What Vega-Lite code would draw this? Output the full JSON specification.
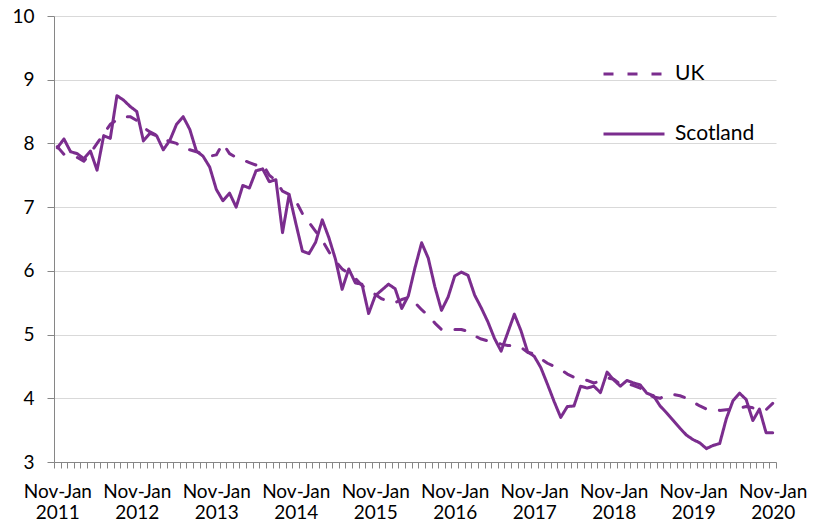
{
  "$schema": "https://vega.github.io/schema/vega-lite/v6.json",
  "width": 722,
  "height": 446,
  "padding": {"left": 11, "top": 7, "right": 0, "bottom": 0},
  "background": "white",
  "config": {"view": {"stroke": null}},
  "data": {"values": [
    {"i": 0, "p": "Nov-Jan 2011", "UK": 7.95, "Scotland": 7.93},
    {"i": 1, "p": "Dec-Feb 2011", "UK": 7.83, "Scotland": 8.07},
    {"i": 2, "p": "Jan-Mar 2011", "UK": 7.8, "Scotland": 7.87},
    {"i": 3, "p": "Feb-Apr 2011", "UK": 7.78, "Scotland": 7.84},
    {"i": 4, "p": "Mar-May 2011", "UK": 7.72, "Scotland": 7.76},
    {"i": 5, "p": "Apr-Jun 2011", "UK": 7.85, "Scotland": 7.88},
    {"i": 6, "p": "May-Jul 2011", "UK": 8.0, "Scotland": 7.58},
    {"i": 7, "p": "Jun-Aug 2011", "UK": 8.15, "Scotland": 8.12},
    {"i": 8, "p": "Jul-Sep 2011", "UK": 8.3, "Scotland": 8.08},
    {"i": 9, "p": "Aug-Oct 2011", "UK": 8.37, "Scotland": 8.75},
    {"i": 10, "p": "Sep-Nov 2011", "UK": 8.42, "Scotland": 8.68},
    {"i": 11, "p": "Oct-Dec 2011", "UK": 8.42, "Scotland": 8.58},
    {"i": 12, "p": "Nov-Jan 2012", "UK": 8.36, "Scotland": 8.5},
    {"i": 13, "p": "Dec-Feb 2012", "UK": 8.25, "Scotland": 8.04},
    {"i": 14, "p": "Jan-Mar 2012", "UK": 8.18, "Scotland": 8.16},
    {"i": 15, "p": "Feb-Apr 2012", "UK": 8.13, "Scotland": 8.12},
    {"i": 16, "p": "Mar-May 2012", "UK": 8.07, "Scotland": 7.9},
    {"i": 17, "p": "Apr-Jun 2012", "UK": 8.03, "Scotland": 8.05},
    {"i": 18, "p": "May-Jul 2012", "UK": 8.0, "Scotland": 8.3},
    {"i": 19, "p": "Jun-Aug 2012", "UK": 7.92, "Scotland": 8.42},
    {"i": 20, "p": "Jul-Sep 2012", "UK": 7.9, "Scotland": 8.22},
    {"i": 21, "p": "Aug-Oct 2012", "UK": 7.87, "Scotland": 7.88},
    {"i": 22, "p": "Sep-Nov 2012", "UK": 7.83, "Scotland": 7.8},
    {"i": 23, "p": "Oct-Dec 2012", "UK": 7.8, "Scotland": 7.63},
    {"i": 24, "p": "Nov-Jan 2013", "UK": 7.82, "Scotland": 7.28},
    {"i": 25, "p": "Dec-Feb 2013", "UK": 8.0, "Scotland": 7.1},
    {"i": 26, "p": "Jan-Mar 2013", "UK": 7.84, "Scotland": 7.22},
    {"i": 27, "p": "Feb-Apr 2013", "UK": 7.78, "Scotland": 7.0},
    {"i": 28, "p": "Mar-May 2013", "UK": 7.74, "Scotland": 7.34},
    {"i": 29, "p": "Apr-Jun 2013", "UK": 7.7, "Scotland": 7.3},
    {"i": 30, "p": "May-Jul 2013", "UK": 7.66, "Scotland": 7.57},
    {"i": 31, "p": "Jun-Aug 2013", "UK": 7.68, "Scotland": 7.6},
    {"i": 32, "p": "Jul-Sep 2013", "UK": 7.5, "Scotland": 7.4},
    {"i": 33, "p": "Aug-Oct 2013", "UK": 7.42, "Scotland": 7.43},
    {"i": 34, "p": "Sep-Nov 2013", "UK": 7.25, "Scotland": 6.6},
    {"i": 35, "p": "Oct-Dec 2013", "UK": 7.2, "Scotland": 7.2},
    {"i": 36, "p": "Nov-Jan 2014", "UK": 7.1, "Scotland": 6.75},
    {"i": 37, "p": "Dec-Feb 2014", "UK": 6.9, "Scotland": 6.31},
    {"i": 38, "p": "Jan-Mar 2014", "UK": 6.76, "Scotland": 6.27},
    {"i": 39, "p": "Feb-Apr 2014", "UK": 6.62, "Scotland": 6.45},
    {"i": 40, "p": "Mar-May 2014", "UK": 6.48, "Scotland": 6.8},
    {"i": 41, "p": "Apr-Jun 2014", "UK": 6.3, "Scotland": 6.52},
    {"i": 42, "p": "May-Jul 2014", "UK": 6.15, "Scotland": 6.18},
    {"i": 43, "p": "Jun-Aug 2014", "UK": 6.03, "Scotland": 5.71},
    {"i": 44, "p": "Jul-Sep 2014", "UK": 5.96, "Scotland": 6.03},
    {"i": 45, "p": "Aug-Oct 2014", "UK": 5.88, "Scotland": 5.81},
    {"i": 46, "p": "Sep-Nov 2014", "UK": 5.77, "Scotland": 5.79},
    {"i": 47, "p": "Oct-Dec 2014", "UK": 5.7, "Scotland": 5.33},
    {"i": 48, "p": "Nov-Jan 2015", "UK": 5.63, "Scotland": 5.61},
    {"i": 49, "p": "Dec-Feb 2015", "UK": 5.56, "Scotland": 5.7},
    {"i": 50, "p": "Jan-Mar 2015", "UK": 5.52, "Scotland": 5.79},
    {"i": 51, "p": "Feb-Apr 2015", "UK": 5.5, "Scotland": 5.72},
    {"i": 52, "p": "Mar-May 2015", "UK": 5.55, "Scotland": 5.41},
    {"i": 53, "p": "Apr-Jun 2015", "UK": 5.58, "Scotland": 5.61},
    {"i": 54, "p": "May-Jul 2015", "UK": 5.5, "Scotland": 6.05},
    {"i": 55, "p": "Jun-Aug 2015", "UK": 5.39, "Scotland": 6.44},
    {"i": 56, "p": "Jul-Sep 2015", "UK": 5.3, "Scotland": 6.2},
    {"i": 57, "p": "Aug-Oct 2015", "UK": 5.18, "Scotland": 5.75},
    {"i": 58, "p": "Sep-Nov 2015", "UK": 5.08, "Scotland": 5.38},
    {"i": 59, "p": "Oct-Dec 2015", "UK": 5.08, "Scotland": 5.59},
    {"i": 60, "p": "Nov-Jan 2016", "UK": 5.08, "Scotland": 5.92},
    {"i": 61, "p": "Dec-Feb 2016", "UK": 5.08, "Scotland": 5.98},
    {"i": 62, "p": "Jan-Mar 2016", "UK": 5.05, "Scotland": 5.93},
    {"i": 63, "p": "Feb-Apr 2016", "UK": 4.98, "Scotland": 5.62},
    {"i": 64, "p": "Mar-May 2016", "UK": 4.93, "Scotland": 5.42},
    {"i": 65, "p": "Apr-Jun 2016", "UK": 4.9, "Scotland": 5.2},
    {"i": 66, "p": "May-Jul 2016", "UK": 4.88, "Scotland": 4.94},
    {"i": 67, "p": "Jun-Aug 2016", "UK": 4.85, "Scotland": 4.74},
    {"i": 68, "p": "Jul-Sep 2016", "UK": 4.83, "Scotland": 5.03},
    {"i": 69, "p": "Aug-Oct 2016", "UK": 4.83, "Scotland": 5.32},
    {"i": 70, "p": "Sep-Nov 2016", "UK": 4.8, "Scotland": 5.06},
    {"i": 71, "p": "Oct-Dec 2016", "UK": 4.72, "Scotland": 4.73},
    {"i": 72, "p": "Nov-Jan 2017", "UK": 4.7, "Scotland": 4.66},
    {"i": 73, "p": "Dec-Feb 2017", "UK": 4.62, "Scotland": 4.48},
    {"i": 74, "p": "Jan-Mar 2017", "UK": 4.55, "Scotland": 4.22},
    {"i": 75, "p": "Feb-Apr 2017", "UK": 4.5, "Scotland": 3.95},
    {"i": 76, "p": "Mar-May 2017", "UK": 4.45, "Scotland": 3.7},
    {"i": 77, "p": "Apr-Jun 2017", "UK": 4.38, "Scotland": 3.87},
    {"i": 78, "p": "May-Jul 2017", "UK": 4.33, "Scotland": 3.88},
    {"i": 79, "p": "Jun-Aug 2017", "UK": 4.31, "Scotland": 4.19},
    {"i": 80, "p": "Jul-Sep 2017", "UK": 4.28, "Scotland": 4.16},
    {"i": 81, "p": "Aug-Oct 2017", "UK": 4.24, "Scotland": 4.19},
    {"i": 82, "p": "Sep-Nov 2017", "UK": 4.27, "Scotland": 4.09},
    {"i": 83, "p": "Oct-Dec 2017", "UK": 4.32, "Scotland": 4.41},
    {"i": 84, "p": "Nov-Jan 2018", "UK": 4.3, "Scotland": 4.29},
    {"i": 85, "p": "Dec-Feb 2018", "UK": 4.22, "Scotland": 4.19},
    {"i": 86, "p": "Jan-Mar 2018", "UK": 4.23, "Scotland": 4.28},
    {"i": 87, "p": "Feb-Apr 2018", "UK": 4.2, "Scotland": 4.24},
    {"i": 88, "p": "Mar-May 2018", "UK": 4.16, "Scotland": 4.21},
    {"i": 89, "p": "Apr-Jun 2018", "UK": 4.07, "Scotland": 4.08},
    {"i": 90, "p": "May-Jul 2018", "UK": 4.02, "Scotland": 4.04},
    {"i": 91, "p": "Jun-Aug 2018", "UK": 4.0, "Scotland": 3.88},
    {"i": 92, "p": "Jul-Sep 2018", "UK": 4.05, "Scotland": 3.77},
    {"i": 93, "p": "Aug-Oct 2018", "UK": 4.06, "Scotland": 3.65},
    {"i": 94, "p": "Sep-Nov 2018", "UK": 4.04, "Scotland": 3.53},
    {"i": 95, "p": "Oct-Dec 2018", "UK": 4.0, "Scotland": 3.42},
    {"i": 96, "p": "Nov-Jan 2019", "UK": 3.94, "Scotland": 3.35},
    {"i": 97, "p": "Dec-Feb 2019", "UK": 3.88, "Scotland": 3.3},
    {"i": 98, "p": "Jan-Mar 2019", "UK": 3.83, "Scotland": 3.21},
    {"i": 99, "p": "Feb-Apr 2019", "UK": 3.82, "Scotland": 3.26},
    {"i": 100, "p": "Mar-May 2019", "UK": 3.81, "Scotland": 3.29},
    {"i": 101, "p": "Apr-Jun 2019", "UK": 3.82, "Scotland": 3.68},
    {"i": 102, "p": "May-Jul 2019", "UK": 3.83, "Scotland": 3.96},
    {"i": 103, "p": "Jun-Aug 2019", "UK": 3.85, "Scotland": 4.08},
    {"i": 104, "p": "Jul-Sep 2019", "UK": 3.87, "Scotland": 3.98},
    {"i": 105, "p": "Aug-Oct 2019", "UK": 3.85, "Scotland": 3.65},
    {"i": 106, "p": "Sep-Nov 2019", "UK": 3.83, "Scotland": 3.83},
    {"i": 107, "p": "Oct-Dec 2019", "UK": 3.82, "Scotland": 3.46},
    {"i": 108, "p": "Nov-Jan 2020", "UK": 3.92, "Scotland": 3.46}
  ]},
  "transform": [{"fold": ["UK", "Scotland"], "as": ["series", "rate"]}],
  "mark": {"type": "line", "strokeWidth": 3, "color": "#7b2d8e", "strokeCap": "round", "strokeJoin": "round"},
  "encoding": {
    "x": {
      "field": "i", "type": "quantitative",
      "scale": {"domain": [-0.5, 108.5], "nice": false, "zero": false},
      "axis": {
        "title": null,
        "values": [-0.5, 0.5, 1.5, 2.5, 3.5, 4.5, 5.5, 6.5, 7.5, 8.5, 9.5, 10.5, 11.5, 12.5, 13.5, 14.5, 15.5, 16.5, 17.5, 18.5, 19.5, 20.5, 21.5, 22.5, 23.5, 24.5, 25.5, 26.5, 27.5, 28.5, 29.5, 30.5, 31.5, 32.5, 33.5, 34.5, 35.5, 36.5, 37.5, 38.5, 39.5, 40.5, 41.5, 42.5, 43.5, 44.5, 45.5, 46.5, 47.5, 48.5, 49.5, 50.5, 51.5, 52.5, 53.5, 54.5, 55.5, 56.5, 57.5, 58.5, 59.5, 60.5, 61.5, 62.5, 63.5, 64.5, 65.5, 66.5, 67.5, 68.5, 69.5, 70.5, 71.5, 72.5, 73.5, 74.5, 75.5, 76.5, 77.5, 78.5, 79.5, 80.5, 81.5, 82.5, 83.5, 84.5, 85.5, 86.5, 87.5, 88.5, 89.5, 90.5, 91.5, 92.5, 93.5, 94.5, 95.5, 96.5, 97.5, 98.5, 99.5, 100.5, 101.5, 102.5, 103.5, 104.5, 105.5, 106.5, 107.5, 108.5],
        "labelExpr": "(datum.value + 0.5) % 12 == 0 && datum.value < 108 ? ['Nov-Jan', '' + (2011 + (datum.value + 0.5) / 12)] : ''",
        "labelOffset": 3.31, "labelAngle": 0, "labelOverlap": false, "labelFlush": false,
        "labelFont": "Lato", "labelFontSize": 19, "labelColor": "#000000", "labelPadding": 14,
        "tickSize": 6, "tickColor": "#868686", "domainColor": "#868686", "grid": false
      }
    },
    "y": {
      "field": "rate", "type": "quantitative",
      "scale": {"domain": [3, 10], "nice": false, "zero": false},
      "axis": {
        "title": null, "values": [3, 4, 5, 6, 7, 8, 9, 10], "grid": true, "gridColor": "#d9d9d9",
        "tickSize": 7, "tickColor": "#868686", "domainColor": "#868686",
        "labelFont": "Lato", "labelFontSize": 19, "labelColor": "#000000", "labelPadding": 13
      }
    },
    "strokeDash": {
      "field": "series", "type": "nominal",
      "scale": {"domain": ["UK", "Scotland"], "range": [[10, 14], [1, 0]]},
      "legend": {
        "title": null, "orient": "none", "legendX": 548, "legendY": 26,
        "symbolType": "stroke", "symbolSize": 3721, "symbolStrokeWidth": 3, "symbolStrokeColor": "#7b2d8e",
        "labelFont": "Lato", "labelFontSize": 21, "labelOffset": 9, "labelColor": "#000000",
        "rowPadding": 18, "padding": 0
      }
    }
  }
}
